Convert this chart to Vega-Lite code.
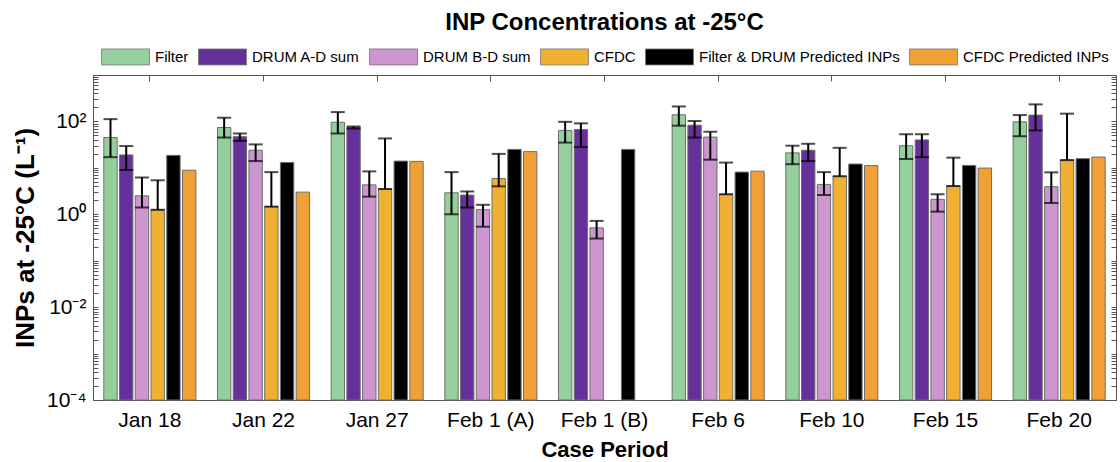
{
  "$schema": "https://vega.github.io/schema/vega-lite/v6.json",
  "width": 1023,
  "height": 325,
  "autosize": {"type": "none"},
  "padding": {"left": 93, "top": 75, "right": 4, "bottom": 62},
  "background": "white",
  "config": {
    "font": "Liberation Sans",
    "view": {"stroke": "#555555", "strokeWidth": 1},
    "axis": {"domain": false, "grid": false, "labelColor": "black", "titleColor": "black", "tickColor": "#555555"}
  },
  "title": {
    "text": "INP Concentrations at -25°C",
    "anchor": "middle",
    "font": "Liberation Sans",
    "fontSize": 24,
    "fontWeight": "bold",
    "color": "black",
    "offset": 13
  },
  "data": {
    "values": [
      {"period": "Jan 18", "series": "Filter", "v": 45, "lo": 17, "hi": 112},
      {"period": "Jan 18", "series": "DRUM A-D sum", "v": 19, "lo": 9, "hi": 29.5},
      {"period": "Jan 18", "series": "DRUM B-D sum", "v": 2.5, "lo": 1.4, "hi": 6.2},
      {"period": "Jan 18", "series": "CFDC", "v": 1.25, "lo": 1.25, "hi": 5.4},
      {"period": "Jan 18", "series": "Filter & DRUM Predicted INPs", "v": 18.6},
      {"period": "Jan 18", "series": "CFDC Predicted INPs", "v": 8.9},

      {"period": "Jan 22", "series": "Filter", "v": 74, "lo": 45, "hi": 120},
      {"period": "Jan 22", "series": "DRUM A-D sum", "v": 47, "lo": 38, "hi": 55},
      {"period": "Jan 22", "series": "DRUM B-D sum", "v": 24, "lo": 14, "hi": 32},
      {"period": "Jan 22", "series": "CFDC", "v": 1.46, "lo": 1.46, "hi": 8.1},
      {"period": "Jan 22", "series": "Filter & DRUM Predicted INPs", "v": 13.1},
      {"period": "Jan 22", "series": "CFDC Predicted INPs", "v": 3.0},

      {"period": "Jan 27", "series": "Filter", "v": 96, "lo": 55, "hi": 159},
      {"period": "Jan 27", "series": "DRUM A-D sum", "v": 74, "lo": 70, "hi": 78},
      {"period": "Jan 27", "series": "DRUM B-D sum", "v": 4.3, "lo": 2.4, "hi": 8.4},
      {"period": "Jan 27", "series": "CFDC", "v": 3.5, "lo": 3.5, "hi": 43},
      {"period": "Jan 27", "series": "Filter & DRUM Predicted INPs", "v": 14.0},
      {"period": "Jan 27", "series": "CFDC Predicted INPs", "v": 13.8},

      {"period": "Feb 1 (A)", "series": "Filter", "v": 2.9, "lo": 1.0, "hi": 8.1},
      {"period": "Feb 1 (A)", "series": "DRUM A-D sum", "v": 2.6, "lo": 1.4, "hi": 3.1},
      {"period": "Feb 1 (A)", "series": "DRUM B-D sum", "v": 1.26, "lo": 0.54, "hi": 1.6},
      {"period": "Feb 1 (A)", "series": "CFDC", "v": 5.9, "lo": 4.0, "hi": 20},
      {"period": "Feb 1 (A)", "series": "Filter & DRUM Predicted INPs", "v": 25},
      {"period": "Feb 1 (A)", "series": "CFDC Predicted INPs", "v": 22.4},

      {"period": "Feb 1 (B)", "series": "Filter", "v": 64, "lo": 35, "hi": 98},
      {"period": "Feb 1 (B)", "series": "DRUM A-D sum", "v": 67, "lo": 28, "hi": 91},
      {"period": "Feb 1 (B)", "series": "DRUM B-D sum", "v": 0.51, "lo": 0.30, "hi": 0.72},
      {"period": "Feb 1 (B)", "series": "Filter & DRUM Predicted INPs", "v": 25},

      {"period": "Feb 6", "series": "Filter", "v": 139, "lo": 81, "hi": 210},
      {"period": "Feb 6", "series": "DRUM A-D sum", "v": 83, "lo": 45, "hi": 102},
      {"period": "Feb 6", "series": "DRUM B-D sum", "v": 46, "lo": 15, "hi": 60},
      {"period": "Feb 6", "series": "CFDC", "v": 2.7, "lo": 2.7, "hi": 13},
      {"period": "Feb 6", "series": "Filter & DRUM Predicted INPs", "v": 8.1},
      {"period": "Feb 6", "series": "CFDC Predicted INPs", "v": 8.5},

      {"period": "Feb 10", "series": "Filter", "v": 21, "lo": 12, "hi": 30},
      {"period": "Feb 10", "series": "DRUM A-D sum", "v": 24, "lo": 14, "hi": 33},
      {"period": "Feb 10", "series": "DRUM B-D sum", "v": 4.4, "lo": 2.6, "hi": 8.1},
      {"period": "Feb 10", "series": "CFDC", "v": 6.6, "lo": 6.6, "hi": 27},
      {"period": "Feb 10", "series": "Filter & DRUM Predicted INPs", "v": 12.1},
      {"period": "Feb 10", "series": "CFDC Predicted INPs", "v": 11.2},

      {"period": "Feb 15", "series": "Filter", "v": 30, "lo": 15.5, "hi": 53},
      {"period": "Feb 15", "series": "DRUM A-D sum", "v": 40, "lo": 17, "hi": 53},
      {"period": "Feb 15", "series": "DRUM B-D sum", "v": 2.1, "lo": 1.14, "hi": 2.7},
      {"period": "Feb 15", "series": "CFDC", "v": 4.06, "lo": 4.06, "hi": 16.6},
      {"period": "Feb 15", "series": "Filter & DRUM Predicted INPs", "v": 11.3},
      {"period": "Feb 15", "series": "CFDC Predicted INPs", "v": 9.9},

      {"period": "Feb 20", "series": "Filter", "v": 98, "lo": 48, "hi": 137},
      {"period": "Feb 20", "series": "DRUM A-D sum", "v": 137, "lo": 64, "hi": 233},
      {"period": "Feb 20", "series": "DRUM B-D sum", "v": 3.94, "lo": 1.75, "hi": 8.0},
      {"period": "Feb 20", "series": "CFDC", "v": 14.7, "lo": 14.7, "hi": 147},
      {"period": "Feb 20", "series": "Filter & DRUM Predicted INPs", "v": 15.8},
      {"period": "Feb 20", "series": "CFDC Predicted INPs", "v": 17.1}
    ]
  },
  "encoding": {
    "xOffset": {
      "field": "series",
      "type": "nominal",
      "sort": ["Filter", "DRUM A-D sum", "DRUM B-D sum", "CFDC", "Filter & DRUM Predicted INPs", "CFDC Predicted INPs"],
      "scale": {"paddingInner": 0.15, "paddingOuter": 0}
    }
  },
  "layer": [
    {
      "mark": {"type": "bar", "stroke": "#6e6e6e", "strokeWidth": 1},
      "encoding": {
        "x": {
          "field": "period",
          "type": "nominal",
          "sort": ["Jan 18", "Jan 22", "Jan 27", "Feb 1 (A)", "Feb 1 (B)", "Feb 6", "Feb 10", "Feb 15", "Feb 20"],
          "scale": {"paddingInner": 0.19, "paddingOuter": 0.095},
          "axis": {
            "orient": "bottom",
            "title": "Case Period",
            "titleFontSize": 22,
            "titleFontWeight": "bold",
            "titlePadding": 9,
            "labelFontSize": 21,
            "labelAngle": 0,
            "labelPadding": 9,
            "ticks": false
          }
        },
        "y": {
          "field": "v",
          "type": "quantitative",
          "scale": {"type": "log", "domain": [0.0001, 1000], "nice": false},
          "axis": {
            "orient": "left",
            "title": "INPs at -25°C (L⁻¹)",
            "titleFontSize": 26,
            "titleFontWeight": "bold",
            "titlePadding": 8,
            "labelFontSize": 21,
            "labelPadding": 12,
            "tickSize": -5,
            "values": [0.0001,0.0002,0.0003,0.0004,0.0005,0.0006,0.0007,0.0008,0.0009,0.001,0.002,0.003,0.004,0.005,0.006,0.007,0.008,0.009,0.01,0.02,0.03,0.04,0.05,0.06,0.07,0.08,0.09,0.1,0.2,0.3,0.4,0.5,0.6,0.7,0.8,0.9,1,2,3,4,5,6,7,8,9,10,20,30,40,50,60,70,80,90,100,200,300,400,500,600,700,800,900,1000],
            "labelExpr": "datum.value == 0.0001 ? '10⁻⁴' : datum.value == 0.01 ? '10⁻²' : datum.value == 1 ? '10⁰' : datum.value == 100 ? '10²' : ''"
          }
        },
        "y2": {"datum": 0.0001},
        "color": {
          "field": "series",
          "type": "nominal",
          "scale": {
            "domain": ["Filter", "DRUM A-D sum", "DRUM B-D sum", "CFDC", "Filter & DRUM Predicted INPs", "CFDC Predicted INPs"],
            "range": ["#95CF9D", "#66309A", "#CE96CE", "#F0B133", "#000000", "#F0A035"]
          },
          "legend": {
            "orient": "none",
            "legendX": 24,
            "legendY": -27,
            "direction": "horizontal",
            "columns": 6,
            "title": null,
            "symbolType": "M-3,-1H3V1H-3Z",
            "symbolSize": 256,
            "symbolStrokeColor": "#777777",
            "symbolStrokeWidth": 0.8,
            "symbolOpacity": 1,
            "labelFont": "Liberation Sans",
            "labelFontSize": 15,
            "labelColor": "black",
            "labelOffset": 21,
            "columnPadding": 7,
            "padding": 0,
            "labelLimit": 400
          }
        }
      }
    },
    {
      "mark": {"type": "rule", "color": "black", "strokeWidth": 2},
      "encoding": {
        "x": {
          "field": "period",
          "type": "nominal",
          "sort": ["Jan 18", "Jan 22", "Jan 27", "Feb 1 (A)", "Feb 1 (B)", "Feb 6", "Feb 10", "Feb 15", "Feb 20"],
          "axis": {"orient": "top", "title": null, "labels": false, "tickSize": -6}
        },
        "y": {
          "field": "lo",
          "type": "quantitative",
          "axis": {
            "orient": "right",
            "title": null,
            "labels": false,
            "tickSize": -5,
            "values": [0.0001,0.0002,0.0003,0.0004,0.0005,0.0006,0.0007,0.0008,0.0009,0.001,0.002,0.003,0.004,0.005,0.006,0.007,0.008,0.009,0.01,0.02,0.03,0.04,0.05,0.06,0.07,0.08,0.09,0.1,0.2,0.3,0.4,0.5,0.6,0.7,0.8,0.9,1,2,3,4,5,6,7,8,9,10,20,30,40,50,60,70,80,90,100,200,300,400,500,600,700,800,900,1000]
          }
        },
        "y2": {"field": "hi"}
      }
    },
    {
      "mark": {"type": "tick", "color": "black", "thickness": 2, "size": 14},
      "encoding": {
        "x": {
          "field": "period",
          "type": "nominal",
          "sort": ["Jan 18", "Jan 22", "Jan 27", "Feb 1 (A)", "Feb 1 (B)", "Feb 6", "Feb 10", "Feb 15", "Feb 20"],
          "axis": null
        },
        "y": {"field": "lo", "type": "quantitative", "axis": null}
      }
    },
    {
      "mark": {"type": "tick", "color": "black", "thickness": 2, "size": 14},
      "encoding": {
        "x": {
          "field": "period",
          "type": "nominal",
          "sort": ["Jan 18", "Jan 22", "Jan 27", "Feb 1 (A)", "Feb 1 (B)", "Feb 6", "Feb 10", "Feb 15", "Feb 20"],
          "axis": null
        },
        "y": {"field": "hi", "type": "quantitative", "axis": null}
      }
    }
  ],
  "resolve": {"axis": {"x": "independent", "y": "independent"}}
}
